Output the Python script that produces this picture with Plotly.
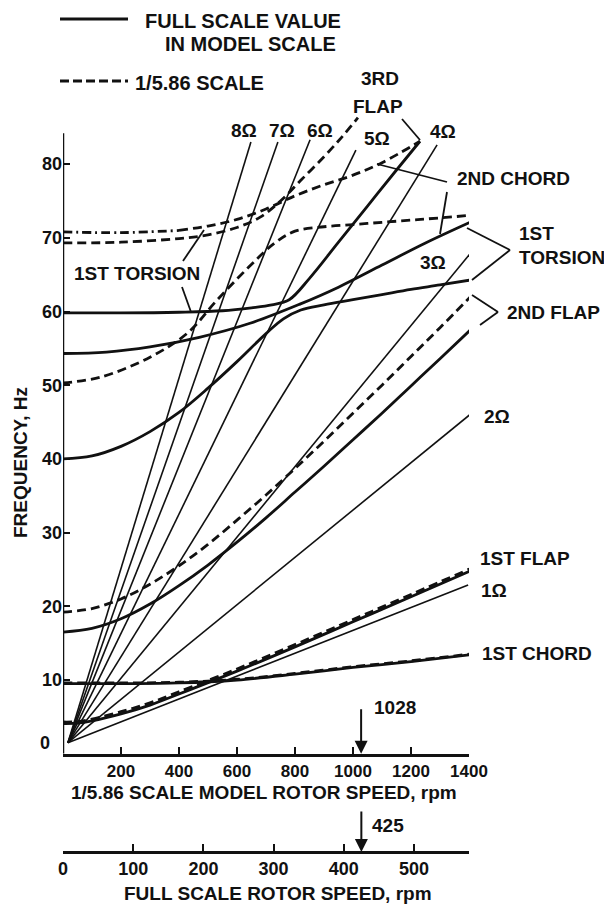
import plotly.graph_objects as go

# ---------------- data (model rotor speed in rpm, frequency in Hz) ----------------
omega_labels = ["1Ω", "2Ω", "3Ω", "4Ω", "5Ω", "6Ω", "7Ω", "8Ω"]
omega_start_rpm = [17, 17, 17, 17, 17, 17, 17, 17]
omega_start_hz = [1.5, 1.5, 1.5, 1.5, 1.5, 1.5, 1.5, 1.5]
omega_end_rpm = [1397, 1403, 1428, 1290, 1010, 852, 741, 648]
omega_end_hz = [22.9, 46.0, 69.0, 82.6, 81.9, 83.3, 83.0, 83.0]

chord1_rpm = [0, 200, 400, 600, 800, 1000, 1200, 1400]
chord1_full_hz = [9.5, 9.5, 9.6, 10.0, 10.8, 11.7, 12.5, 13.4]
chord1_model_hz = [9.6, 9.6, 9.7, 10.1, 10.9, 11.8, 12.6, 13.5]

flap1_rpm = [0, 50, 100, 200, 300, 400, 600, 800, 1000, 1200, 1410]
flap1_full_hz = [4.1, 4.15, 4.45, 5.4, 6.6, 8.1, 11.2, 14.5, 17.9, 21.3, 24.9]
flap1_model_hz = [4.3, 4.35, 4.7, 5.7, 6.9, 8.4, 11.5, 14.8, 18.2, 21.6, 25.2]

flap2_rpm = [0, 100, 200, 300, 400, 500, 600, 700, 800, 900, 1000, 1100, 1200, 1300, 1410]
flap2_full_hz = [16.5, 17.0, 18.3, 20.3, 22.8, 25.6, 28.7, 32.0, 35.5, 39.0, 42.6, 46.2, 49.9, 53.6, 57.7]
flap2_model_hz = [19.2, 19.7, 21.0, 23.0, 25.5, 28.4, 31.7, 35.1, 38.7, 42.4, 46.2, 50.0, 53.9, 57.8, 62.2]

# solid: 1st torsion at 60 Hz veering into 3rd flap
tors_a_rpm = [0, 200, 400, 550, 650, 720, 780, 850, 950, 1050, 1150, 1231]
tors_a_hz = [59.8, 59.8, 59.9, 60.1, 60.5, 60.9, 61.6, 64.5, 69.4, 74.3, 79.2, 83.1]
# solid: 3rd flap from 40 Hz veering into 1st torsion
flap3_rpm = [0, 100, 200, 300, 400, 500, 600, 700, 760, 820, 900, 1000, 1100, 1200, 1300, 1410]
flap3_hz = [40.0, 40.4, 41.7, 43.7, 46.3, 49.6, 53.2, 57.0, 59.0, 60.2, 60.9, 61.6, 62.3, 63.0, 63.6, 64.3]
# solid: second 1st-torsion curve from 54 Hz
tors_b_rpm = [0, 150, 300, 470, 645, 817, 950, 1100, 1250, 1420]
tors_b_hz = [54.3, 54.5, 55.2, 56.5, 58.4, 61.0, 63.3, 66.3, 69.3, 72.4]

# dashed (1/5.86 scale)
mdl_a_rpm = [0, 130, 300, 430, 530, 645, 730, 800, 900, 1000, 1100, 1200, 1300, 1420]
mdl_a_hz = [50.3, 51.1, 53.8, 57.1, 61.5, 66.2, 69.3, 70.9, 71.5, 71.8, 72.1, 72.4, 72.7, 73.1]
mdl_b_rpm = [0, 200, 400, 500, 600, 680, 750, 820, 900, 960, 1017]
mdl_b_hz = [69.3, 69.4, 69.9, 70.4, 71.4, 72.8, 75.0, 77.8, 81.0, 83.6, 86.3]
mdl_c_rpm = [0, 200, 400, 500, 600, 700, 800, 900, 1000, 1100, 1231]
mdl_c_hz = [70.8, 70.7, 71.0, 71.6, 72.5, 73.9, 75.7, 77.2, 78.5, 80.2, 83.1]

model_ticks = [200, 400, 600, 800, 1000, 1200, 1400]
freq_ticks = [0, 10, 20, 30, 40, 50, 60, 70, 80]
full_ticks = [0, 100, 200, 300, 400, 500]
scale_ratio = 2.4207  # sqrt(5.86): model rpm / full-scale rpm
model_marker_rpm = 1028
full_marker_rpm = 425

# ---------------- geometry ----------------
W, H = 604, 904
L, R = 63, 469
T, B = 109, 852
Y0PX = 753.7
PXHZ = 7.37
y_top = (Y0PX - T) / PXHZ
y_dom0 = (B - Y0PX) / (B - T)


def px(xp):
    return (xp - L) / (R - L)


def py(yp):
    return (B - yp) / (B - T)


FONT = "Liberation Sans, Arial, sans-serif"
black = "#111111"
LBL = 19

fig = go.Figure()

solid_w = 2.8
dash_pat = "9px,5px"

for i in range(len(omega_labels)):
    fig.add_trace(go.Scatter(x=[omega_start_rpm[i], omega_end_rpm[i]],
                             y=[omega_start_hz[i], omega_end_hz[i]],
                             mode="lines", line=dict(color=black, width=1.6),
                             showlegend=False, hoverinfo="skip"))

solid_sets = [(chord1_rpm, chord1_full_hz), (flap1_rpm, flap1_full_hz),
              (flap2_rpm, flap2_full_hz), (tors_a_rpm, tors_a_hz),
              (flap3_rpm, flap3_hz), (tors_b_rpm, tors_b_hz)]
for xs, ys in solid_sets:
    fig.add_trace(go.Scatter(x=xs, y=ys, mode="lines", line=dict(color=black, width=solid_w),
                             line_shape="spline", showlegend=False, hoverinfo="skip"))

dash_sets = [(chord1_rpm, chord1_model_hz), (flap1_rpm, flap1_model_hz),
             (flap2_rpm, flap2_model_hz), (mdl_a_rpm, mdl_a_hz), (mdl_b_rpm, mdl_b_hz)]
for xs, ys in dash_sets:
    fig.add_trace(go.Scatter(x=xs, y=ys, mode="lines",
                             line=dict(color=black, width=solid_w, dash=dash_pat),
                             line_shape="spline", showlegend=False, hoverinfo="skip"))
# upper 2nd chord: dash-dot near the axis, dashed afterwards
fig.add_trace(go.Scatter(x=mdl_c_rpm[:3], y=mdl_c_hz[:3], mode="lines",
                         line=dict(color=black, width=solid_w, dash="9px,4px,2px,4px"),
                         line_shape="spline", showlegend=False, hoverinfo="skip"))
fig.add_trace(go.Scatter(x=mdl_c_rpm[2:], y=mdl_c_hz[2:], mode="lines",
                         line=dict(color=black, width=solid_w, dash=dash_pat),
                         line_shape="spline", showlegend=False, hoverinfo="skip"))

# dummy trace to carry the full-scale axis
fig.add_trace(go.Scatter(x=[0], y=[0], xaxis="x2", yaxis="y", mode="markers",
                         marker=dict(opacity=0), showlegend=False, hoverinfo="skip"))

tickfont = dict(family=FONT, size=17, color=black, weight="bold")
ytickfont = dict(family=FONT, size=18, color=black, weight="bold")

fig.update_layout(
    width=W, height=H,
    margin=dict(l=L, r=W - R, t=T, b=H - B, pad=0),
    paper_bgcolor="white", plot_bgcolor="white",
    xaxis=dict(range=[0, 1400], domain=[0, 1], anchor="y", showline=True, linewidth=2.5,
               linecolor=black, ticks="inside", ticklen=7, tickwidth=2, tickcolor=black,
               tickvals=model_ticks, ticktext=[str(v) for v in model_ticks],
               showgrid=False, zeroline=False, tickfont=tickfont),
    yaxis=dict(range=[0, y_top], domain=[y_dom0, 1], showline=False,
               ticks="inside", ticklen=7, tickwidth=2, tickcolor=black,
               tickvals=freq_ticks, ticktext=["" if v == 0 else str(v) for v in freq_ticks],
               showgrid=False, zeroline=False, tickfont=ytickfont),
    xaxis2=dict(range=[0, 1400 / scale_ratio], overlaying="x", anchor="free", position=0,
                showline=True, linewidth=2.5, linecolor=black, ticks="inside", ticklen=7,
                tickwidth=2, tickcolor=black, tickvals=full_ticks,
                ticktext=[str(v) for v in full_ticks], showgrid=False, zeroline=False,
                tickfont=ytickfont, side="bottom"),
)

shapes = []
# y axis line
shapes.append(dict(type="line", xref="x", yref="y", x0=0, x1=0, y0=0, y1=84.2,
                   line=dict(color=black, width=2.5)))


def seg(x0, y0, x1, y1, w=1.8, dash=None):
    d = dict(type="line", xref="paper", yref="paper", x0=px(x0), y0=py(y0), x1=px(x1), y1=py(y1),
             line=dict(color=black, width=w))
    if dash:
        d["line"]["dash"] = dash
    shapes.append(d)


# legend lines
seg(60, 19, 128, 19, w=2.8)
seg(60, 81, 128, 81, w=2.8, dash="9px,4px")
# leader lines
seg(182, 287, 191, 312)
seg(183, 261, 204, 230)
seg(447, 182, 377, 164)
seg(447, 192, 440, 234)
seg(402, 119, 420, 140)
seg(467, 228, 510, 250)
seg(510, 250, 472, 280)
seg(472, 295, 498, 312)
seg(498, 312, 480, 325)

annotations = []


def txt(s, xp, yp, anchor="left", size=LBL, angle=0):
    annotations.append(dict(text=s, x=px(xp), y=py(yp), xref="paper", yref="paper",
                            showarrow=False, xanchor=anchor, yanchor="middle", textangle=angle,
                            font=dict(family=FONT, size=size, color=black, weight="bold")))


txt("FULL SCALE VALUE", 143, 21, size=20)
txt("IN MODEL SCALE", 163, 44, size=20)
txt("1/5.86 SCALE", 133, 83, size=20)
txt("3RD", 380, 78, "center")
txt("FLAP", 378, 107, "center")
omega_label_pos = [(494, 590), (497, 417), (433, 262), (443, 132), (377, 138), (320, 130), (282, 130), (244, 130)]
for lab, (xp, yp) in zip(omega_labels, omega_label_pos):
    txt(lab, xp, yp, "center")
txt("2ND CHORD", 455, 178)
txt("1ST", 517, 233)
txt("TORSION", 517, 257)
txt("2ND FLAP", 505, 312)
txt("1ST FLAP", 478, 558)
txt("1ST CHORD", 480, 653)
txt("1ST TORSION", 137, 273, "center")
txt("0", 45, 743, "center", size=18)
txt(str(model_marker_rpm), 372, 707)
txt(str(full_marker_rpm), 370, 825)
txt("1/5.86 SCALE MODEL ROTOR SPEED, rpm", 264, 792, "center")
txt("FULL SCALE ROTOR SPEED, rpm", 278, 893, "center")
txt("FREQUENCY, Hz", 20, 463, "center", angle=-90)

# arrows at design speed
annotations.append(dict(x=model_marker_rpm, y=0, xref="x", yref="y", text="", showarrow=True,
                        ax=0, ay=-46, arrowhead=2, arrowsize=1.3, arrowwidth=2, arrowcolor=black))
annotations.append(dict(x=full_marker_rpm, y=0, xref="x2", yref="paper", text="", showarrow=True,
                        ax=0, ay=-42, arrowhead=2, arrowsize=1.3, arrowwidth=2, arrowcolor=black))

fig.update_layout(shapes=shapes, annotations=annotations)
fig.write_html("out.html")
